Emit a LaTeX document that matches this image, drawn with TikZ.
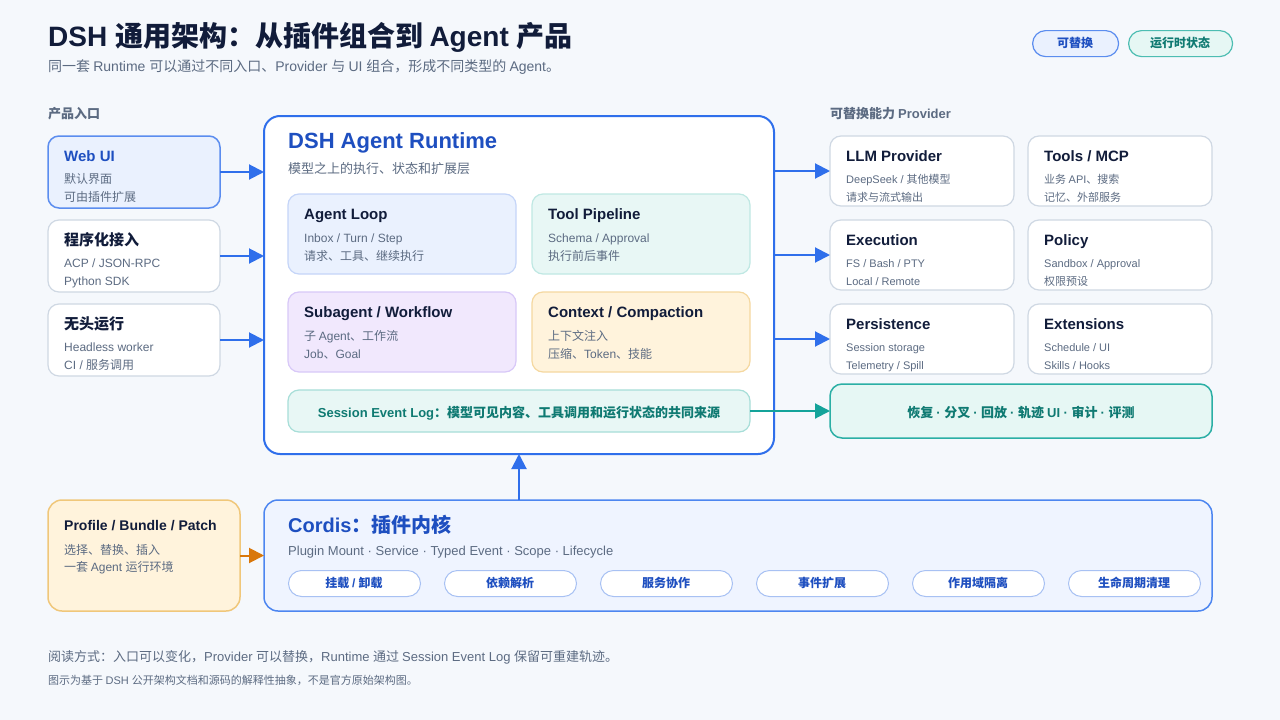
\documentclass[tikz,border=0pt]{standalone}
\usepackage{fontspec}
\setmainfont{Liberation Sans}
\newfontfamily\latinf{Liberation Sans}
\newfontfamily\cjkf{Noto Sans CJK SC}
\XeTeXinterchartokenstate=1
\newXeTeXintercharclass\cjkcls
\newcount\cjkcnt
\cjkcnt="3000 \loop\ifnum\cjkcnt<"3040 \XeTeXcharclass\cjkcnt=\cjkcls \advance\cjkcnt by 1 \repeat
\cjkcnt="4E00 \loop\ifnum\cjkcnt<"A000 \XeTeXcharclass\cjkcnt=\cjkcls \advance\cjkcnt by 1 \repeat
\cjkcnt="FF00 \loop\ifnum\cjkcnt<"FFF0 \XeTeXcharclass\cjkcnt=\cjkcls \advance\cjkcnt by 1 \repeat
\XeTeXinterchartoks 0 \cjkcls = {\cjkf}
\XeTeXinterchartoks 4095 \cjkcls = {\cjkf}
\XeTeXinterchartoks \cjkcls 0 = {\latinf}
\XeTeXinterchartoks 4095 0 = {\latinf}
\usetikzlibrary{arrows.meta}
\definecolor{bg}{RGB}{245,248,252}
\definecolor{cdark}{RGB}{17,28,58}
\definecolor{cgray}{RGB}{92,107,130}
\definecolor{cblue}{RGB}{30,79,192}
\definecolor{cteal}{RGB}{15,122,114}
\definecolor{arrblue}{RGB}{47,111,235}
\definecolor{arrteal}{RGB}{20,163,154}
\definecolor{arrorange}{RGB}{217,119,10}
\definecolor{grayb}{RGB}{207,216,227}
\definecolor{bluefill}{RGB}{234,241,254}
\definecolor{blueb}{RGB}{91,141,239}
\definecolor{loopb}{RGB}{197,213,248}
\definecolor{tealfill}{RGB}{232,247,245}
\definecolor{tealb}{RGB}{191,232,227}
\definecolor{purfill}{RGB}{241,232,253}
\definecolor{purb}{RGB}{216,200,248}
\definecolor{orfill}{RGB}{255,243,220}
\definecolor{orb}{RGB}{245,216,160}
\definecolor{orbd}{RGB}{240,199,122}
\definecolor{sessb}{RGB}{167,222,216}
\definecolor{resb}{RGB}{43,175,165}
\definecolor{resfill}{RGB}{230,247,244}
\definecolor{cordfill}{RGB}{239,244,255}
\definecolor{cordb}{RGB}{77,134,240}
\definecolor{pillb}{RGB}{168,193,243}
\definecolor{tpillb}{RGB}{77,189,178}
\newcommand\fsz[1]{\fontsize{#1}{#1}\selectfont}
\tikzset{
  card/.style={draw=grayb, fill=white, line width=1.2pt, rounded corners=11pt, inner sep=0pt, outer sep=0pt, anchor=north west},
  ttl/.style={anchor=base west, inner sep=0pt, font=\bfseries\fsz{15}, text=cdark},
  sub/.style={anchor=base west, inner sep=0pt, font=\fsz{12}, text=cgray},
  sml/.style={anchor=base west, inner sep=0pt, font=\fsz{11}, text=cgray},
  arr/.style={line width=2pt, draw=arrblue, -{Triangle[length=15pt,width=15pt]}},
  cpill/.style={draw=pillb, fill=white, line width=1pt, rounded corners=13pt, minimum width=132pt, minimum height=26pt, inner sep=0pt, anchor=north west},
  ptxt/.style={anchor=base, inner sep=0pt, font=\bfseries\fsz{12}, text=cblue},
  lbl/.style={anchor=base west, inner sep=0pt, font=\bfseries\fsz{13}, text=cgray},
}
\begin{document}
\begin{tikzpicture}[x=1pt,y=-1pt]
\useasboundingbox (0,0) rectangle (1280,720);
\fill[bg] (0,0) rectangle (1280,720);

% header
\node[anchor=base west, inner sep=0pt, font=\bfseries\fsz{28}, text=cdark] (title) at (48,46) {DSH 通用架构：从插件组合到 Agent 产品};
\node[anchor=base west, inner sep=0pt, font=\fsz{14}, text=cgray] (subtitle) at (48,71.3) {同一套 Runtime 可以通过不同入口、Provider 与 UI 组合，形成不同类型的 Agent。};
\node[draw=blueb, fill=bluefill, line width=1.2pt, rounded corners=13pt, minimum width=86pt, minimum height=26pt, inner sep=0pt, anchor=north west] (legA) at (1032,30) {};
\node[ptxt] (legAt) at (1075,47.6) {可替换};
\node[draw=tpillb, fill=resfill, line width=1.2pt, rounded corners=13pt, minimum width=104pt, minimum height=26pt, inner sep=0pt, anchor=north west] (legB) at (1128,30) {};
\node[ptxt, text=cteal] (legBt) at (1180,47.6) {运行时状态};

% section labels
\node[lbl] (lblL) at (48,118) {产品入口};
\node[lbl] (lblR) at (830,118) {可替换能力 Provider};

% left entry cards
\node[card, draw=blueb, fill=bluefill, line width=1.5pt, minimum width=172pt, minimum height=72pt] (webui) at (48,136) {};
\node[ttl, text=cblue] (webuiT) at (64,161.5) {Web UI};
\node[sub] (webui1) at (64,183.5) {默认界面};
\node[sub] (webui2) at (64,201.5) {可由插件扩展};

\node[card, minimum width=172pt, minimum height=72pt] (prog) at (48,220) {};
\node[ttl] (progT) at (64,245.5) {程序化接入};
\node[sub] (prog1) at (64,267.5) {ACP / JSON-RPC};
\node[sub] (prog2) at (64,285.5) {Python SDK};

\node[card, minimum width=172pt, minimum height=72pt] (head) at (48,304) {};
\node[ttl] (headT) at (64,329.5) {无头运行};
\node[sub] (head1) at (64,351.5) {Headless worker};
\node[sub] (head2) at (64,369.5) {CI / 服务调用};

% runtime
\node[card, draw=arrblue, line width=2pt, rounded corners=16pt, minimum width=510pt, minimum height=338pt] (runtime) at (264,116) {};
\node[anchor=base west, inner sep=0pt, font=\bfseries\fsz{22}, text=cblue] (rtT) at (288,148) {DSH Agent Runtime};
\node[anchor=base west, inner sep=0pt, font=\fsz{13}, text=cgray] (rtS) at (288,173.8) {模型之上的执行、状态和扩展层};

\node[card, draw=loopb, fill=bluefill, minimum width=228pt, minimum height=80pt] (loop) at (288,194) {};
\node[ttl] (loopT) at (304,219) {Agent Loop};
\node[sub] (loop1) at (304,242) {Inbox / Turn / Step};
\node[sub] (loop2) at (304,260) {请求、工具、继续执行};

\node[card, draw=tealb, fill=tealfill, minimum width=218pt, minimum height=80pt] (tool) at (532,194) {};
\node[ttl] (toolT) at (548,219) {Tool Pipeline};
\node[sub] (tool1) at (548,242) {Schema / Approval};
\node[sub] (tool2) at (548,260) {执行前后事件};

\node[card, draw=purb, fill=purfill, minimum width=228pt, minimum height=80pt] (subag) at (288,292) {};
\node[ttl] (subagT) at (304,317) {Subagent / Workflow};
\node[sub] (subag1) at (304,340) {子 Agent、工作流};
\node[sub] (subag2) at (304,358) {Job、Goal};

\node[card, draw=orb, fill=orfill, minimum width=218pt, minimum height=80pt] (ctx) at (532,292) {};
\node[ttl] (ctxT) at (548,317) {Context / Compaction};
\node[sub] (ctx1) at (548,340) {上下文注入};
\node[sub] (ctx2) at (548,358) {压缩、Token、技能};

\node[card, draw=sessb, fill=tealfill, minimum width=462pt, minimum height=42pt] (session) at (288,390) {};
\node[anchor=base, inner sep=0pt, font=\bfseries\fsz{13}, text=cteal] (sessionT) at (519,417) {Session Event Log：模型可见内容、工具调用和运行状态的共同来源};

% providers
\node[card, minimum width=184pt, minimum height=70pt] (llm) at (830,136) {};
\node[ttl] (llmT) at (846,161.5) {LLM Provider};
\node[sml] (llm1) at (846,183) {DeepSeek / 其他模型};
\node[sml] (llm2) at (846,201) {请求与流式输出};

\node[card, minimum width=184pt, minimum height=70pt] (tools) at (1028,136) {};
\node[ttl] (toolsT) at (1044,161.5) {Tools / MCP};
\node[sml] (tools1) at (1044,183) {业务 API、搜索};
\node[sml] (tools2) at (1044,201) {记忆、外部服务};

\node[card, minimum width=184pt, minimum height=70pt] (exec) at (830,220) {};
\node[ttl] (execT) at (846,245.5) {Execution};
\node[sml] (exec1) at (846,267) {FS / Bash / PTY};
\node[sml] (exec2) at (846,285) {Local / Remote};

\node[card, minimum width=184pt, minimum height=70pt] (policy) at (1028,220) {};
\node[ttl] (policyT) at (1044,245.5) {Policy};
\node[sml] (policy1) at (1044,267) {Sandbox / Approval};
\node[sml] (policy2) at (1044,285) {权限预设};

\node[card, minimum width=184pt, minimum height=70pt] (persist) at (830,304) {};
\node[ttl] (persistT) at (846,329.5) {Persistence};
\node[sml] (persist1) at (846,351) {Session storage};
\node[sml] (persist2) at (846,369) {Telemetry / Spill};

\node[card, minimum width=184pt, minimum height=70pt] (ext) at (1028,304) {};
\node[ttl] (extT) at (1044,329.5) {Extensions};
\node[sml] (ext1) at (1044,351) {Schedule / UI};
\node[sml] (ext2) at (1044,369) {Skills / Hooks};

\node[card, draw=resb, fill=resfill, line width=1.5pt, rounded corners=12pt, minimum width=382pt, minimum height=54pt] (result) at (830,384) {};
\node[anchor=base, inner sep=0pt, font=\bfseries\fsz{13}, text=cteal] (resultT) at (1021,417) {恢复 · 分叉 · 回放 · 轨迹 UI · 审计 · 评测};

% bottom
\node[card, draw=orbd, fill=orfill, line width=1.5pt, rounded corners=14pt, minimum width=192pt, minimum height=111pt] (profile) at (48,500) {};
\node[ttl, font=\bfseries\fsz{14}] (profileT) at (64,530.5) {Profile / Bundle / Patch};
\node[sub] (profile1) at (64,554.5) {选择、替换、插入};
\node[sub] (profile2) at (64,571.5) {一套 Agent 运行环境};

\node[card, draw=cordb, fill=cordfill, line width=1.5pt, rounded corners=14pt, minimum width=948pt, minimum height=111pt] (cordis) at (264,500) {};
\node[anchor=base west, inner sep=0pt, font=\bfseries\fsz{20}, text=cblue] (cordisT) at (288,532) {Cordis：插件内核};
\node[anchor=base west, inner sep=0pt, font=\fsz{13}, text=cgray] (cordisS) at (288,555.5) {Plugin Mount · Service · Typed Event · Scope · Lifecycle};

\node[cpill] (p1) at (288,570) {};
\node[ptxt] (p1t) at (354,587.6) {挂载 / 卸载};
\node[cpill] (p2) at (444,570) {};
\node[ptxt] (p2t) at (510,587.6) {依赖解析};
\node[cpill] (p3) at (600,570) {};
\node[ptxt] (p3t) at (666,587.6) {服务协作};
\node[cpill] (p4) at (756,570) {};
\node[ptxt] (p4t) at (822,587.6) {事件扩展};
\node[cpill] (p5) at (912,570) {};
\node[ptxt] (p5t) at (978,587.6) {作用域隔离};
\node[cpill] (p6) at (1068,570) {};
\node[ptxt] (p6t) at (1134,587.6) {生命周期清理};

% footer
\node[anchor=base west, inner sep=0pt, font=\fsz{13}, text=cgray] (foot1) at (48,661) {阅读方式：入口可以变化，Provider 可以替换，Runtime 通过 Session Event Log 保留可重建轨迹。};
\node[anchor=base west, inner sep=0pt, font=\fsz{11}, text=cgray] (foot2) at (48,684.5) {图示为基于 DSH 公开架构文档和源码的解释性抽象，不是官方原始架构图。};

% connectors
\draw[arr] (webui.east) -- (webui.east -| runtime.west);
\draw[arr] (prog.east) -- (prog.east -| runtime.west);
\draw[arr] (head.east) -- (head.east -| runtime.west);
\draw[arr] (llm.west -| runtime.east) -- (llm.west);
\draw[arr] (exec.west -| runtime.east) -- (exec.west);
\draw[arr] (persist.west -| runtime.east) -- (persist.west);
\draw[arr, draw=arrteal] (session.east) -- (session.east -| result.west);
\draw[arr] (cordis.north -| runtime.south) -- (runtime.south);
\draw[arr, draw=arrorange] (profile.east) -- (profile.east -| cordis.west);
\end{tikzpicture}
\end{document}
